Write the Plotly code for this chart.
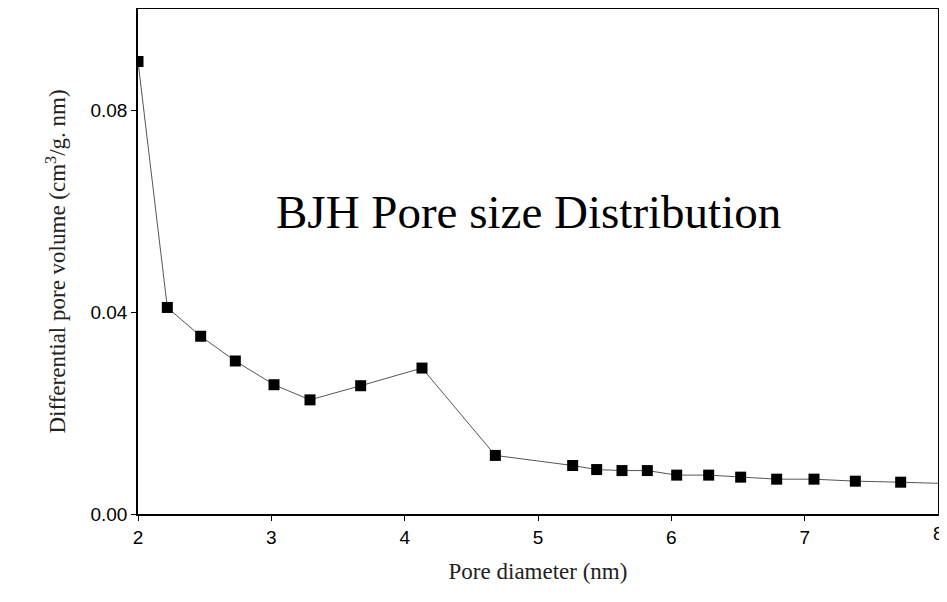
import plotly.graph_objects as go

pore_diameter = [2.0, 2.22, 2.47, 2.73, 3.02, 3.29, 3.67, 4.13, 4.68, 5.26, 5.44, 5.63,
                 5.82, 6.04, 6.28, 6.52, 6.79, 7.07, 7.38, 7.72, 8.1]
pore_volume = [0.0896, 0.0409, 0.0352, 0.0303, 0.0256, 0.0226, 0.0254, 0.0289, 0.0116,
               0.0096, 0.0088, 0.0086, 0.0086, 0.0077, 0.0077, 0.0073, 0.0069, 0.0069,
               0.0065, 0.0063, 0.0060]
x_ticks = [2, 3, 4, 5, 6, 7, 8]

fig = go.Figure(go.Scatter(
    x=pore_diameter, y=pore_volume, mode="lines+markers",
    line=dict(color="#555555", width=1),
    marker=dict(symbol="square", size=11, color="black"),
    cliponaxis=True,
))

tick_font = dict(family="Liberation Sans", size=19, color="black")
axis_common = dict(showline=True, linecolor="black", linewidth=1.5, mirror=True,
                   ticks="outside", tickcolor="black", showgrid=False, zeroline=False,
                   automargin=False, tickfont=tick_font)

fig.update_layout(
    width=931, height=586, plot_bgcolor="white", paper_bgcolor="white",
    margin=dict(l=130, r=1, t=1, b=80), showlegend=False,
    xaxis=dict(range=[2, 8], tickvals=x_ticks[:-1],
               title=dict(text="Pore diameter (nm)", standoff=16,
                          font=dict(family="Liberation Serif", size=23, color="#222")),
               **axis_common),
    yaxis=dict(range=[0, 0.1], tickvals=[0, 0.04, 0.08], tickformat=".2f",
               title=dict(text="Differential pore volume (cm<sup>3</sup>/g. nm)", standoff=18,
                          font=dict(family="Liberation Serif", size=23, color="#222")),
               **axis_common),
    annotations=[
        dict(text="BJH Pore size Distribution", x=4.93, y=0.0598,
             xref="x", yref="y", showarrow=False,
             font=dict(family="Liberation Serif", size=47, color="black")),
        # last tick label sits on the paper edge, as in the original
        dict(text=str(x_ticks[-1]), x=x_ticks[-1], y=0, xref="x", yref="paper",
             yshift=-7, yanchor="top", showarrow=False, font=tick_font),
    ],
)

fig.write_html("out.html")
